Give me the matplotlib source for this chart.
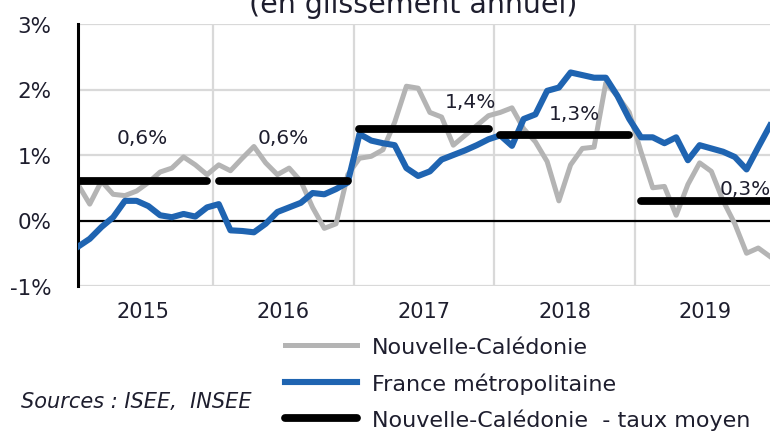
import numpy as np
import matplotlib
matplotlib.use("Agg")
import matplotlib.pyplot as plt

# --- données mensuelles, janv. 2015 -> déc. 2019 (glissement annuel, %) ---
years = ["2015", "2016", "2017", "2018", "2019"]

nc = [0.55, 0.25, 0.60, 0.40, 0.38, 0.45, 0.58, 0.74, 0.80, 0.97, 0.85, 0.70,
      0.85, 0.76, 0.95, 1.13, 0.88, 0.70, 0.80, 0.60, 0.20, -0.12, -0.05, 0.70,
      0.95, 0.98, 1.08, 1.50, 2.05, 2.02, 1.65, 1.58, 1.15, 1.30, 1.45, 1.60,
      1.65, 1.72, 1.40, 1.20, 0.90, 0.30, 0.85, 1.10, 1.12, 2.10, 1.90, 1.65,
      1.05, 0.50, 0.52, 0.08, 0.55, 0.88, 0.75, 0.30, -0.05, -0.50, -0.42, -0.55]

france = [-0.40, -0.28, -0.10, 0.05, 0.30, 0.30, 0.22, 0.08, 0.05, 0.10, 0.06, 0.20,
          0.25, -0.15, -0.16, -0.18, -0.05, 0.13, 0.20, 0.27, 0.42, 0.40, 0.48, 0.58,
          1.32, 1.22, 1.18, 1.15, 0.80, 0.68, 0.75, 0.93, 1.00, 1.07, 1.15, 1.24,
          1.30, 1.14, 1.55, 1.62, 1.98, 2.03, 2.26, 2.22, 2.18, 2.18, 1.90, 1.55,
          1.27, 1.27, 1.18, 1.27, 0.92, 1.15, 1.10, 1.05, 0.97, 0.78, 1.12, 1.45]

nc_mean = [0.6, 0.6, 1.4, 1.3, 0.3]
mean_labels = ["0,6%", "0,6%", "1,4%", "1,3%", "0,3%"]

x = np.arange(len(nc))

fig = plt.figure(figsize=(7.72, 4.35), dpi=100)
ax = fig.add_axes([78 / 772, 1 - 287 / 435, 692 / 772, 262 / 435])

txt = "#1e1e2e"
grid_c = "#d9d9d9"

# grille
for v in [-1, 1, 2, 3]:
    ax.axhline(v, color=grid_c, lw=1.6, zorder=0)
for k in range(1, 5):
    ax.axvline(12 * k - 0.5, color=grid_c, lw=1.6, zorder=0)
ax.axhline(0, color="black", lw=1.6, zorder=1)

l1, = ax.plot(x, nc, color="#b4b4b4", lw=3.6, solid_joinstyle="round", zorder=2,
              label="Nouvelle-Calédonie")
l2, = ax.plot(x, france, color="#1f64b1", lw=4.4, solid_joinstyle="round", zorder=3,
              label="France métropolitaine")
for k, m in enumerate(nc_mean):
    l3, = ax.plot([12 * k, 12 * k + 11], [m, m], color="black", lw=5.6,
                  solid_capstyle="round", zorder=4,
                  label="Nouvelle-Calédonie  - taux moyen")

# étiquettes des taux moyens
lab_dx = [0, 0, 4.0, 0.8, 3.4]
lab_dy = [0.67, 0.67, 0.42, 0.33, 0.19]
for k, (m, s) in enumerate(zip(nc_mean, mean_labels)):
    ax.text(12 * k + 5.5 + lab_dx[k], m + lab_dy[k], s, ha="center", va="center",
            fontsize=14.5, color=txt, zorder=5)

ax.set_xlim(0, 59)
ax.set_ylim(-1, 3)
ax.set_yticks([-1, 0, 1, 2, 3])
ax.set_yticklabels(["-1%", "0%", "1%", "2%", "3%"])
ax.set_xticks([12 * k + 5.5 for k in range(5)])
ax.set_xticklabels(years)
ax.tick_params(axis="both", length=0, colors=txt)
ax.tick_params(axis="y", pad=19, labelsize=15.5)
ax.tick_params(axis="x", pad=11, labelsize=15)
for s in ["top", "right", "bottom"]:
    ax.spines[s].set_visible(False)
ax.spines["left"].set_linewidth(2.2)
ax.spines["left"].set_color("black")

fig.legend(handles=[l1, l2, l3], loc="upper left",
           bbox_to_anchor=(285 / 772, 1 - 338 / 435), frameon=False,
           fontsize=16, handlelength=3.25, handletextpad=0.68,
           labelspacing=0.68, borderpad=0, borderaxespad=0,
           labelcolor=txt)

fig.text(21 / 772, 1 - 402 / 435, "Sources : ISEE,  INSEE", fontsize=15,
         style="italic", color=txt, va="center", ha="left")
fig.text(413 / 772, 1 - 13 / 435, "(en glissement annuel)", fontsize=20.5,
         color=txt, ha="center", va="baseline")

fig.savefig("out.png", dpi=100)
